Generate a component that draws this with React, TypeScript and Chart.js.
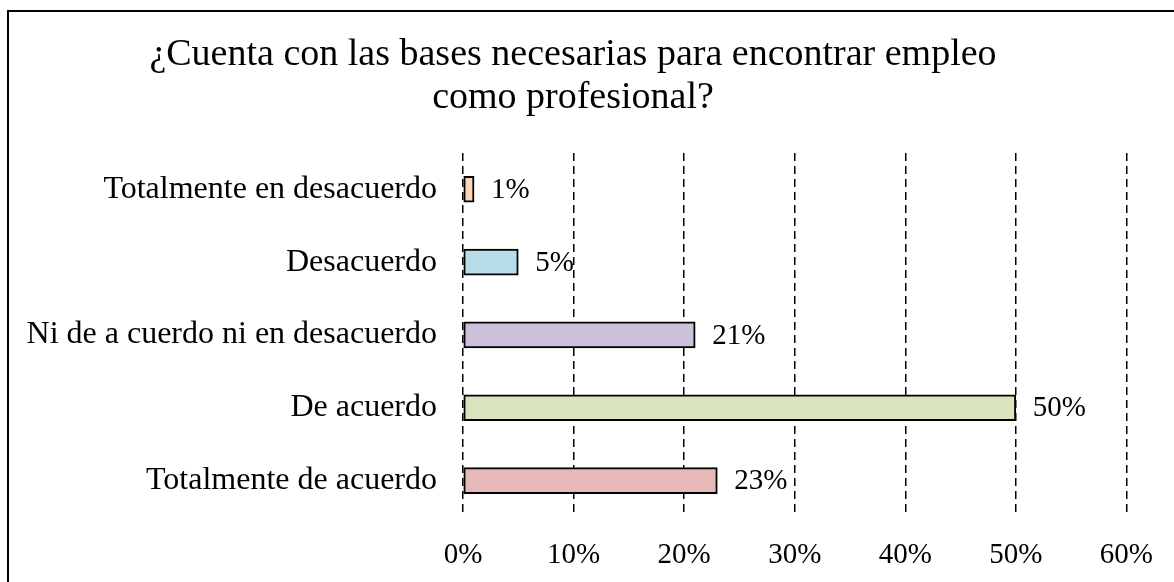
import React, { useEffect, useRef } from "react";
import { Chart, registerables } from "chart.js";

Chart.register(...registerables);

const titleLines = ["¿Cuenta con las bases necesarias para encontrar empleo", "como profesional?"];
const categories = [
  "Totalmente en desacuerdo",
  "Desacuerdo",
  "Ni de a cuerdo ni en desacuerdo",
  "De acuerdo",
  "Totalmente de acuerdo",
];
const values = [1, 5, 21, 50, 23];
const barColors = ["#FCD5B5", "#B7DEE8", "#CCC0DA", "#D7E4BD", "#E6B9B8"];
const xMin = 0;
const xMax = 60;
const xStep = 10;

const FONT = "'Liberation Serif', 'Times New Roman', serif";

const valueLabels = {
  id: "valueLabels",
  afterDatasetsDraw(chart: any) {
    const ctx = chart.ctx;
    const meta = chart.getDatasetMeta(0);
    ctx.save();
    ctx.font = `29px ${FONT}`;
    ctx.fillStyle = "#000";
    ctx.textAlign = "left";
    ctx.textBaseline = "middle";
    meta.data.forEach((bar: any, i: number) => {
      ctx.fillText(`${values[i]}%`, bar.x + 17, bar.y + 1);
    });
    ctx.restore();
  },
};

export default function App() {
  const ref = useRef<HTMLCanvasElement>(null);
  useEffect(() => {
    if (!ref.current) return;
    const chart = new Chart(ref.current, {
      type: "bar",
      data: {
        labels: categories,
        datasets: [
          {
            data: values,
            backgroundColor: barColors,
            borderColor: "#000",
            borderWidth: 2,
            borderSkipped: false,
            barThickness: 26,
          },
        ],
      },
      options: {
        indexAxis: "y",
        animation: false,
        responsive: false,
        maintainAspectRatio: false,
        layout: { padding: { left: 9, right: 46, top: 0, bottom: 0 } },
        plugins: {
          legend: { display: false },
          tooltip: { enabled: false },
          title: {
            display: true,
            text: titleLines,
            color: "#000",
            font: { family: FONT, size: 38, weight: "normal", lineHeight: 1.13 },
            padding: { top: 21.5, bottom: 33.5 },
          },
        },
        scales: {
          x: {
            min: xMin,
            max: xMax,
            ticks: {
              stepSize: xStep,
              color: "#000",
              padding: 21,
              font: { family: FONT, size: 29 },
              callback: (v: any) => `${v}%`,
            },
            grid: { color: "#000", lineWidth: 1.5, drawTicks: false },
            border: { display: false, dash: [8, 5] },
            afterFit: (s: any) => {
              s.height = 65;
            },
          },
          y: {
            ticks: {
              color: "#000",
              padding: 26,
              font: { family: FONT, size: 32 },
            },
            grid: { display: false, drawTicks: false },
            border: { display: false },
            afterFit: (s: any) => {
              s.width = 445;
            },
          },
        },
      },
      plugins: [valueLabels],
    });
    return () => chart.destroy();
  }, []);

  return (
    <div style={{ position: "fixed", left: 0, top: 0, width: "100vw", height: "100vh", overflow: "hidden", background: "#fff" }}>
      <div
        style={{
          position: "absolute",
          left: 7,
          top: 10,
          width: 1300,
          height: 700,
          border: "2px solid #000",
          boxSizing: "border-box",
        }}
      />
      <canvas
        ref={ref}
        width={1165}
        height={570}
        style={{ position: "absolute", left: 9, top: 12, width: 1165, height: 570 }}
      />
    </div>
  );
}
